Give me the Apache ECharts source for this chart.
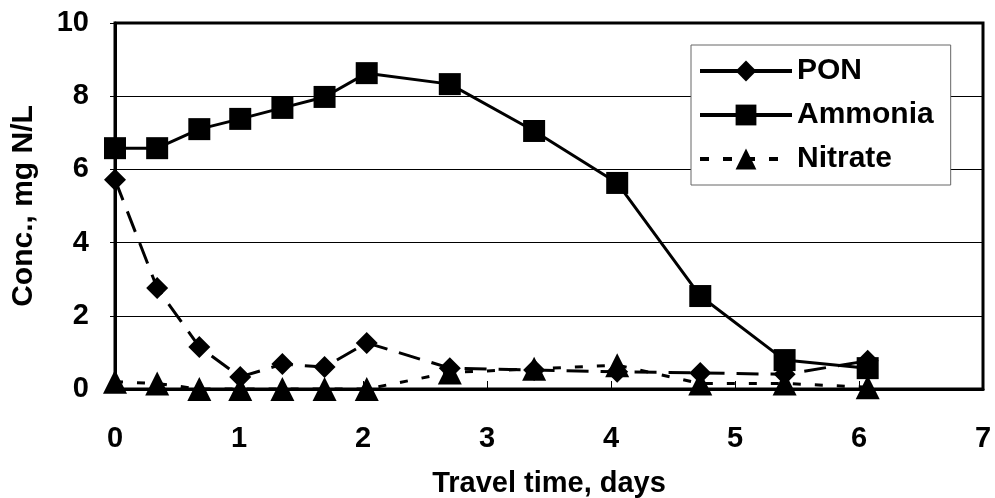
<!DOCTYPE html>
<html>
<head>
<meta charset="utf-8">
<script src="https://cdn.jsdelivr.net/npm/echarts@6/dist/echarts.min.js"></script>
<style>
  html, body { margin: 0; padding: 0; background: #fff; }
  #chart { width: 995px; height: 498px; }
</style>
</head>
<body>
<div id="chart"></div>
<script>
// travel time, days
const days = [0, 0.34, 0.68, 1.01, 1.35, 1.69, 2.03, 2.7, 3.38, 4.05, 4.72, 5.4, 6.07];
// concentrations, mg N/L
const pon = [5.72, 2.76, 1.15, 0.33, 0.68, 0.6, 1.26, 0.57, 0.52, 0.47, 0.44, 0.4, 0.77];
const ammonia = [6.58, 6.58, 7.1, 7.38, 7.68, 7.98, 8.63, 8.33, 7.05, 5.63, 2.54, 0.79, 0.57];
const nitrate = [0.2, 0.15, 0, 0, 0, 0, 0, 0.45, 0.55, 0.65, 0.15, 0.15, 0.05];

const pair = (ys) => days.map((d, i) => [d, ys[i]]);

const font = 'Liberation Sans, Arial, sans-serif';

const chart = echarts.init(document.getElementById('chart'));
chart.setOption({
    animation: false,
    grid: {
        left: 115,
        right: 12,
        top: 23,
        bottom: 109,
        outerBoundsMode: 'none',
        containLabel: false,
        show: true,
        borderColor: '#000',
        borderWidth: 3
    },
    legend: {
        orient: 'vertical',
        left: 691,
        top: 45,
        padding: [11, 17, 11, 7],
        itemGap: 14,
        itemWidth: 92,
        itemHeight: 26,
        backgroundColor: '#fff',
        borderColor: '#666',
        borderWidth: 1,
        lineStyle: { width: 4, color: '#000' },
        textStyle: { color: '#000', fontSize: 30, fontWeight: 'bold', fontFamily: font },
        data: [
            { name: 'PON', lineStyle: { type: 'solid', width: 4 } },
            { name: 'Ammonia', lineStyle: { type: 'solid', width: 4 } },
            { name: 'Nitrate', lineStyle: { type: [9, 14], width: 4 } }
        ]
    },
    xAxis: {
        type: 'value',
        min: 0,
        max: 7,
        interval: 1,
        name: 'Travel time, days',
        nameLocation: 'middle',
        nameGap: 80,
        nameTextStyle: { color: '#000', fontSize: 29, fontWeight: 'bold', fontFamily: font },
        axisLine: { lineStyle: { color: '#000', width: 3 } },
        axisTick: { inside: true, length: 8, lineStyle: { color: '#000', width: 1 } },
        axisLabel: { color: '#000', fontSize: 29, fontWeight: 'bold', fontFamily: font, margin: 35 },
        splitLine: { show: false }
    },
    yAxis: {
        type: 'value',
        min: 0,
        max: 10,
        interval: 2,
        name: 'Conc., mg N/L',
        nameLocation: 'middle',
        nameGap: 76,
        nameTextStyle: { color: '#000', fontSize: 30, fontWeight: 'bold', fontFamily: font },
        axisLine: { show: true, lineStyle: { color: '#000', width: 3 } },
        axisTick: { show: true, length: 5, lineStyle: { color: '#000', width: 1 } },
        axisLabel: { color: '#000', fontSize: 29, fontWeight: 'bold', fontFamily: font, margin: 26 },
        splitLine: { show: true, lineStyle: { color: '#000', width: 1 } }
    },
    series: [
        {
            name: 'PON',
            type: 'line',
            data: pair(pon),
            symbol: 'diamond',
            symbolSize: 22,
            clip: false,
            itemStyle: { color: '#000' },
            lineStyle: { color: '#000', width: 3, type: [22, 12] },
            z: 3
        },
        {
            name: 'Ammonia',
            type: 'line',
            data: pair(ammonia),
            symbol: 'rect',
            symbolSize: 22,
            clip: false,
            itemStyle: { color: '#000' },
            lineStyle: { color: '#000', width: 3, type: 'solid' },
            z: 4
        },
        {
            name: 'Nitrate',
            type: 'line',
            data: pair(nitrate),
            symbol: 'triangle',
            symbolSize: 24,
            clip: false,
            itemStyle: { color: '#000' },
            lineStyle: { color: '#000', width: 3, type: [8, 14] },
            z: 5
        }
    ]
});
</script>
</body>
</html>
